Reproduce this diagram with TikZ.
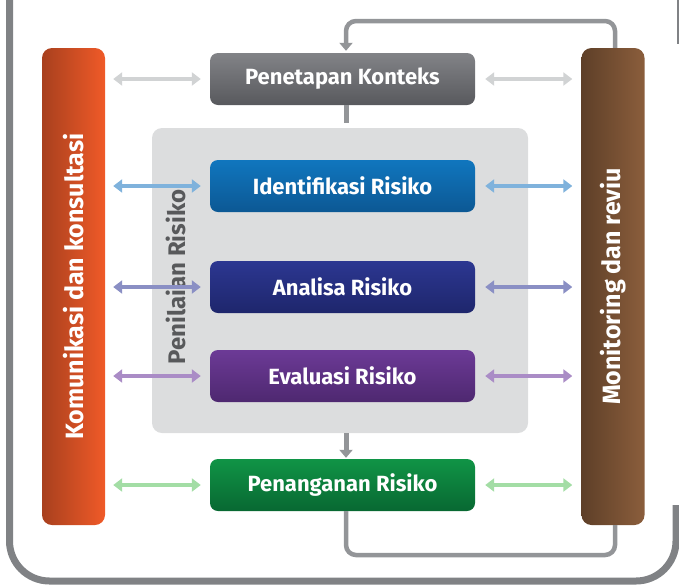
\documentclass[tikz,border=0pt]{standalone}
\usepackage{fontspec}
\setmainfont{Fira Sans}
\usetikzlibrary{arrows.meta}
\definecolor{framegray}{HTML}{808285}
\definecolor{loopgray}{HTML}{939598}
\definecolor{panelgray}{HTML}{DCDDDE}
\definecolor{txtgray}{HTML}{58595B}
\tikzset{
  x=1pt,y=-1pt,
  stepbox/.style={rounded corners=8pt, minimum width=265pt, minimum height=52pt, text=white, font=\fontsize{22}{26}\selectfont\bfseries, inner sep=0pt},
  sidebar/.style={rounded corners=10pt, minimum width=63pt, minimum height=477pt, inner sep=0pt},
  bartext/.style={text=white, font=\fontsize{25}{28}\selectfont\bfseries, rotate=90},
  biarrow/.style={line width=4pt, {Triangle[length=9pt,width=13pt]}-{Triangle[length=9pt,width=13pt]}},
  flow/.style={draw=loopgray, line width=4.5pt},
  tip/.style={-{Triangle[length=8pt,width=13pt]}}
}
\begin{document}
\begin{tikzpicture}
\useasboundingbox (0,0) rectangle (679,587);
% outer frame
\draw[framegray, line width=7pt, rounded corners=40pt] (9.5,0) -- (9.5,581) -- (676,581) -- (676,505);
\draw[framegray, line width=2.5pt] (677.8,0) -- (677.8,44);
% side bars
\node[sidebar, left color={rgb,255:red,168;green,64;blue,30}, right color={rgb,255:red,240;green,90;blue,40}] (lbar) at (73.5,286.5) {};
\node[bartext] (ltext) at (lbar.center) {Komunikasi dan konsultasi};
\node[sidebar, left color={rgb,255:red,94;green,63;blue,40}, right color={rgb,255:red,139;green,94;blue,60}] (rbar) at (613,286.5) {};
\node[bartext] (rtext) at (rbar.center) {Monitoring dan reviu};
% panel
\node[fill=panelgray, rounded corners=10pt, minimum width=376pt, minimum height=305pt, inner sep=0pt] (panel) at (340,280.5) {};
\node[text=txtgray, font=\fontsize{24}{28}\selectfont\bfseries, rotate=90] (ptext) at (176,277) {Penilaian Risiko};
% step boxes
\node[stepbox, top color={rgb,255:red,130;green,131;blue,135}, bottom color={rgb,255:red,88;green,89;blue,93}] (ctx) at (342.5,79) {Penetapan Konteks};
\node[stepbox, top color={rgb,255:red,16;green,118;blue,190}, bottom color={rgb,255:red,12;green,88;blue,148}] (idf) at (342.5,186) {Identifikasi Risiko};
\node[stepbox, top color={rgb,255:red,44;green,55;blue,145}, bottom color={rgb,255:red,30;green,38;blue,108}] (ana) at (342.5,287) {Analisa Risiko};
\node[stepbox, top color={rgb,255:red,108;green,58;blue,150}, bottom color={rgb,255:red,78;green,40;blue,112}] (eva) at (342.5,376) {Evaluasi Risiko};
\node[stepbox, top color={rgb,255:red,16;green,148;blue,70}, bottom color={rgb,255:red,8;green,104;blue,50}] (pen) at (342.5,485) {Penanganan Risiko};
% bidirectional arrows
\foreach \b/\c in {ctx/{D1D3D4}, idf/{7FB2DC}, ana/{8A8FC4}, eva/{AA8CC6}, pen/{A3DDA5}}{
  \definecolor{arrc}{HTML}{\c}
  \draw[biarrow, arrc] ([xshift=8pt]lbar.east |- \b.west) -- ([xshift=-9pt]\b.west);
  \draw[biarrow, arrc] ([xshift=10pt]\b.east) -- ([xshift=-9pt]rbar.west |- \b.east);
}
% vertical connectors
\coordinate (ctxend) at ([yshift=-18pt]ctx.south);
\draw[flow, line width=5pt] ([xshift=3.5pt]ctx.south) -- ([xshift=3.5pt]ctxend);
\draw[flow, line width=5pt, tip] ([xshift=3.5pt]panel.south -| ctx.south) -- ([xshift=3.5pt,yshift=1pt]pen.north);
% loops
\coordinate (bl) at (346,555);
\coordinate (br) at (615,555);
\coordinate (tl) at (346,21);
\coordinate (tr) at (615,21);
\draw[flow, rounded corners=10pt] ([xshift=3.5pt]pen.south) -- (bl) -- (br) -- ([xshift=2pt]rbar.south);
\draw[flow, rounded corners=10pt, tip] ([xshift=2pt]rbar.north) -- (tr) -- (tl) -- ([xshift=3.5pt,yshift=2pt]ctx.north);
\end{tikzpicture}
\end{document}
